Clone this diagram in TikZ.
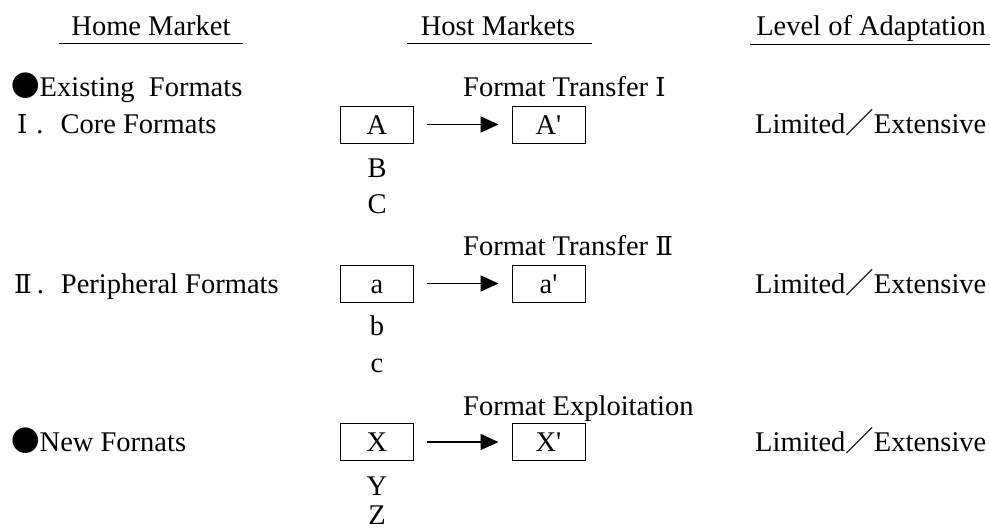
\documentclass[tikz,border=0pt]{standalone}
\usepackage{fontspec}
\setmainfont{Liberation Serif}[Ligatures=TeXOff]
\newfontfamily\cjkf{Noto Sans CJK JP}
\newfontfamily\numf{DejaVu Serif}
\usetikzlibrary{arrows.meta}
\begin{document}
\begin{tikzpicture}[x=1pt,y=-1pt,
  every node/.style={inner sep=0pt,font=\fontsize{28.5}{33}\selectfont},
  lbl/.style={anchor=base west},
  ctr/.style={anchor=base},
  fbox/.style={draw,line width=1pt,minimum width=73pt,minimum height=37pt,text height=19pt,text depth=0pt},
  link/.style={line width=1.3pt,-{Triangle[length=18pt,width=16pt]},shorten <=13pt,shorten >=13pt},
  uline/.style={line width=1pt}]
\useasboundingbox (0,0) rectangle (990,531);
% headings
\node[ctr] (hhome) at (151,35) {Home Market};
\node[ctr] (hhost) at (498,35) {Host Markets};
\node[ctr] (hlev) at (871,35) {Level of Adaptation};
\draw[uline] (59,43) -- (243,43);
\draw[uline] (407,43) -- (592,43);
\draw[uline] (750,44) -- (990,44);
% left column
\node[lbl] (exist) at (11,96) {{\cjkf ●}Existing\ \ Formats};
\node[lbl] (core) at (17,133) {{\numf\fontsize{26}{30}\selectfont Ⅰ}\hspace{9pt}.\hspace{17pt}Core Formats};
\node[lbl] (peri) at (14,293) {{\numf\fontsize{26}{30}\selectfont Ⅱ}\hspace{5pt}.\hspace{17pt}Peripheral Formats};
\node[lbl] (new) at (11,451) {{\cjkf ●}New Fornats};
% row 1
\node[lbl] (ft1) at (463,96) {Format Transfer {\numf\fontsize{26}{30}\selectfont Ⅰ}};
\node[fbox] (A) at (377,124.5) {A};
\node[fbox] (A2) at (548.5,124.5) {A'};
\draw[link] (A) -- (A2);
\node[ctr] (B) at (377,177) {B};
\node[ctr] (C) at (377,213) {C};
\node[lbl] (lim1) at (755,133) {Limited{\cjkf ／}Extensive};
% row 2
\node[lbl] (ft2) at (463,255) {Format Transfer {\numf\fontsize{26}{30}\selectfont Ⅱ}};
\node[fbox] (a) at (377,283.5) {a};
\node[fbox] (a2) at (548.5,283.5) {a'};
\draw[link] (a) -- (a2);
\node[ctr] (b) at (377,335) {b};
\node[ctr] (c) at (377,372) {c};
\node[lbl] (lim2) at (755,293) {Limited{\cjkf ／}Extensive};
% row 3
\node[lbl] (fe) at (463,415) {Format Exploitation};
\node[fbox] (X) at (377,442) {X};
\node[fbox] (X2) at (548.5,442) {X'};
\draw[link] (X) -- (X2);
\node[ctr] (Y) at (377,495) {Y};
\node[ctr] (Z) at (377,524) {Z};
\node[lbl] (lim3) at (755,451) {Limited{\cjkf ／}Extensive};
\end{tikzpicture}
\end{document}
